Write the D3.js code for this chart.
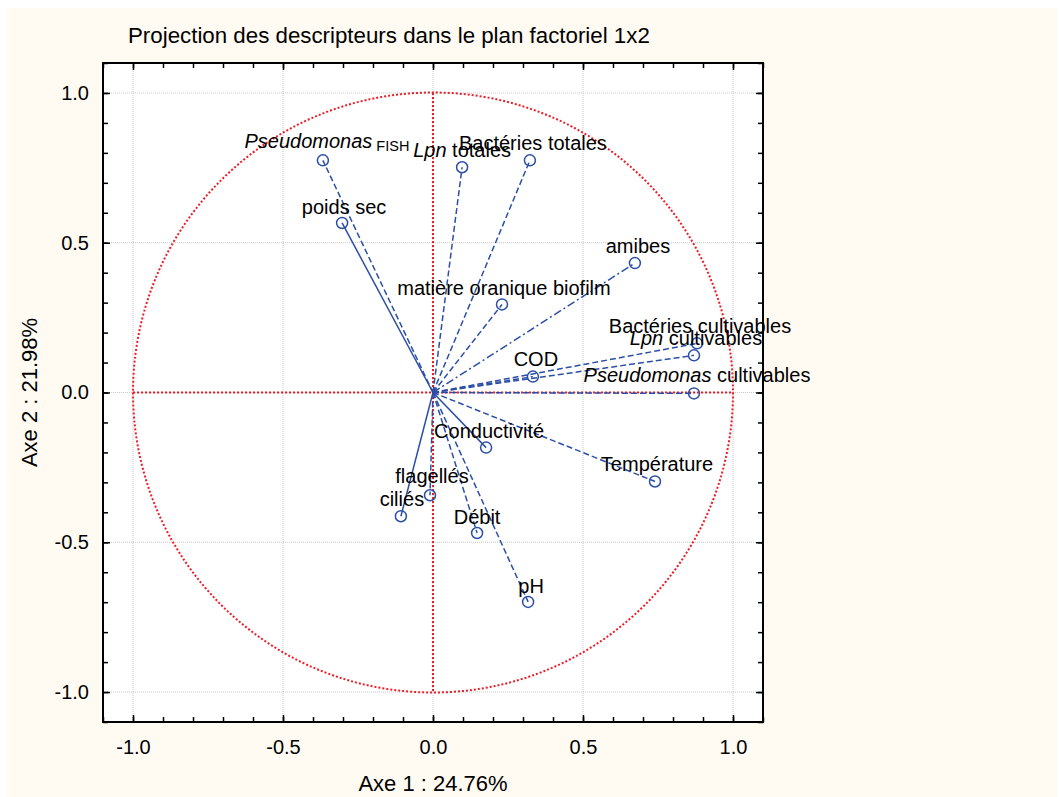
<!DOCTYPE html>
<html>
<head>
<meta charset="utf-8">
<script src="https://cdn.jsdelivr.net/npm/d3@7"></script>
<style>
  html, body { margin: 0; padding: 0; background: #ffffff; }
  svg { display: block; font-family: "Liberation Sans", Arial, Helvetica, sans-serif; }
</style>
</head>
<body>
<script>
// ---- data ----
const variables = [
  "Pseudomonas FISH", "Lpn totales", "Bactéries totales", "poids sec", "amibes",
  "matière oranique biofilm", "Bactéries cultivables", "Lpn cultivables", "COD",
  "Pseudomonas cultivables", "Conductivité", "Température", "flagellés", "ciliés",
  "Débit", "pH"
];
const axis1 = [-0.367, 0.097, 0.323, -0.303, 0.673, 0.230, 0.880, 0.870, 0.333,
               0.870, 0.177, 0.740, -0.010, -0.107, 0.147, 0.317];
const axis2 = [0.775, 0.752, 0.775, 0.566, 0.432, 0.294, 0.164, 0.124, 0.053,
               -0.003, -0.184, -0.297, -0.343, -0.413, -0.469, -0.699];
const majorTicks = [-1.0, -0.5, 0.0, 0.5, 1.0];
const tickLabels = ["-1.0", "-0.5", "0.0", "0.5", "1.0"];
const minorTicks = d3.range(-11, 12).map(i => i / 10);
const chartTitle = "Projection des descripteurs dans le plan factoriel 1x2";
const xTitle = "Axe 1 : 24.76%";
const yTitle = "Axe 2 : 21.98%";

// ---- styles / layout (not data) ----
const lineStyle = ["6,3", "6,3", "6,3", null, "8,3,2,3", "6,3", "6,3", "6,3", "6,3",
                   "6,3", null, "6,3", "6,3", null, "6,3", "6,3"];
const labelShiftX = [4, 0, 3, 2, 3, 2, 3, 2, 3, 3, 3, 2, 2, 1, 0, 3];
const labelShiftY = [-12, -10, -10, -9, -10, -9, -10, -10, -11, -11, -10, -10, -12, -10, -9, -9];

const W = 1059, H = 797;
const pLeft = 103, pRight = 763, pTop = 63, pBottom = 722;
const blue = "#2b4fa8", red = "#ee1c25";

const svg = d3.select("body").append("svg").attr("width", W).attr("height", H);
svg.append("rect").attr("x", 7).attr("y", 8).attr("width", W - 9).attr("height", H - 8)
  .attr("fill", "#fffbf3");
svg.append("rect").attr("x", pLeft).attr("y", pTop).attr("width", pRight - pLeft).attr("height", pBottom - pTop)
  .attr("fill", "#ffffff");

const x = d3.scaleLinear().domain([-1.1, 1.1]).range([pLeft, pRight]);
const y = d3.scaleLinear().domain([-1.1, 1.1]).range([pBottom, pTop]);

// grid
const grid = svg.append("g").attr("stroke", "#c8c8c8").attr("stroke-width", 1).attr("stroke-dasharray", "1,1");
majorTicks.forEach(t => {
  grid.append("line").attr("x1", x(t)).attr("x2", x(t)).attr("y1", pTop).attr("y2", pBottom);
  grid.append("line").attr("y1", y(t)).attr("y2", y(t)).attr("x1", pLeft).attr("x2", pRight);
});

// red unit circle and cross
const redG = svg.append("g").attr("stroke", red).attr("fill", "none").attr("stroke-width", 2).attr("stroke-dasharray", "2,2");
redG.append("circle").attr("cx", x(0)).attr("cy", y(0)).attr("r", x(1) - x(0));
redG.append("line").attr("x1", x(0)).attr("x2", x(0)).attr("y1", y(1)).attr("y2", y(-1));
redG.append("line").attr("x1", x(-1)).attr("x2", x(1)).attr("y1", y(0)).attr("y2", y(0));

// vectors
const data = variables.map((v, i) => ({ name: v, a: axis1[i], b: axis2[i], i }));
const vg = svg.append("g");
vg.selectAll("line").data(data).join("line")
  .attr("x1", x(0)).attr("y1", y(0))
  .attr("x2", d => x(d.a)).attr("y2", d => y(d.b))
  .attr("stroke", blue).attr("stroke-width", 1.5)
  .attr("stroke-dasharray", d => lineStyle[d.i]);
vg.selectAll("circle").data(data).join("circle")
  .attr("cx", d => x(d.a)).attr("cy", d => y(d.b)).attr("r", 5.5)
  .attr("fill", "none").attr("stroke", blue).attr("stroke-width", 1.5);

// labels
const italicWords = ["Pseudomonas", "Lpn"];
const lg = svg.append("g").attr("font-size", 20).attr("fill", "#000").attr("text-anchor", "middle");
data.forEach(d => {
  const t = lg.append("text")
    .attr("x", x(d.a) + labelShiftX[d.i])
    .attr("y", y(d.b) + labelShiftY[d.i]);
  const words = d.name.split(" ");
  words.forEach((w, k) => {
    const sp = t.append("tspan").text((k > 0 ? " " : "") + w);
    if (italicWords.includes(w)) sp.attr("font-style", "italic");
    if (w === "FISH") { sp.attr("font-size", 14.5).attr("dy", 3); }
  });
});

// frame
svg.append("rect").attr("x", pLeft).attr("y", pTop).attr("width", pRight - pLeft).attr("height", pBottom - pTop)
  .attr("fill", "none").attr("stroke", "#000").attr("stroke-width", 2);

// axes (ticks inward)
function addTicks(values, size) {
  const defs = [
    [d3.axisTop(x), `translate(0,${pBottom})`],
    [d3.axisBottom(x), `translate(0,${pTop})`],
    [d3.axisRight(y), `translate(${pLeft},0)`],
    [d3.axisLeft(y), `translate(${pRight},0)`]
  ];
  defs.forEach(([ax, tr]) => {
    const g = svg.append("g").attr("transform", tr)
      .call(ax.tickValues(values).tickSize(size).tickFormat(""));
    g.select(".domain").remove();
    g.selectAll("line").attr("stroke", "#000").attr("stroke-width", 1.5);
  });
}
addTicks(minorTicks, 5);
addTicks(majorTicks, 7);

// tick labels
const xl = d3.axisBottom(x).tickValues(majorTicks).tickSize(0).tickPadding(18)
  .tickFormat((d, i) => tickLabels[i]);
const gx = svg.append("g").attr("transform", `translate(0,${pBottom})`).call(xl);
gx.select(".domain").remove();
gx.selectAll("text").attr("font-size", 20).attr("fill", "#000").attr("font-family", "Liberation Sans, Arial, sans-serif");

const yl = d3.axisLeft(y).tickValues(majorTicks).tickSize(0).tickPadding(14)
  .tickFormat((d, i) => tickLabels[i]);
const gy = svg.append("g").attr("transform", `translate(${pLeft},0)`).call(yl);
gy.select(".domain").remove();
gy.selectAll("text").attr("font-size", 20).attr("fill", "#000").attr("font-family", "Liberation Sans, Arial, sans-serif");

// titles
svg.append("text").attr("x", 128).attr("y", 43).attr("font-size", 22.3).text(chartTitle);
svg.append("text").attr("x", x(0)).attr("y", 791).attr("text-anchor", "middle").attr("font-size", 22).text(xTitle);
svg.append("text").attr("transform", `translate(37,${y(0)}) rotate(-90)`).attr("text-anchor", "middle")
  .attr("font-size", 22).text(yTitle);
</script>
</body>
</html>
